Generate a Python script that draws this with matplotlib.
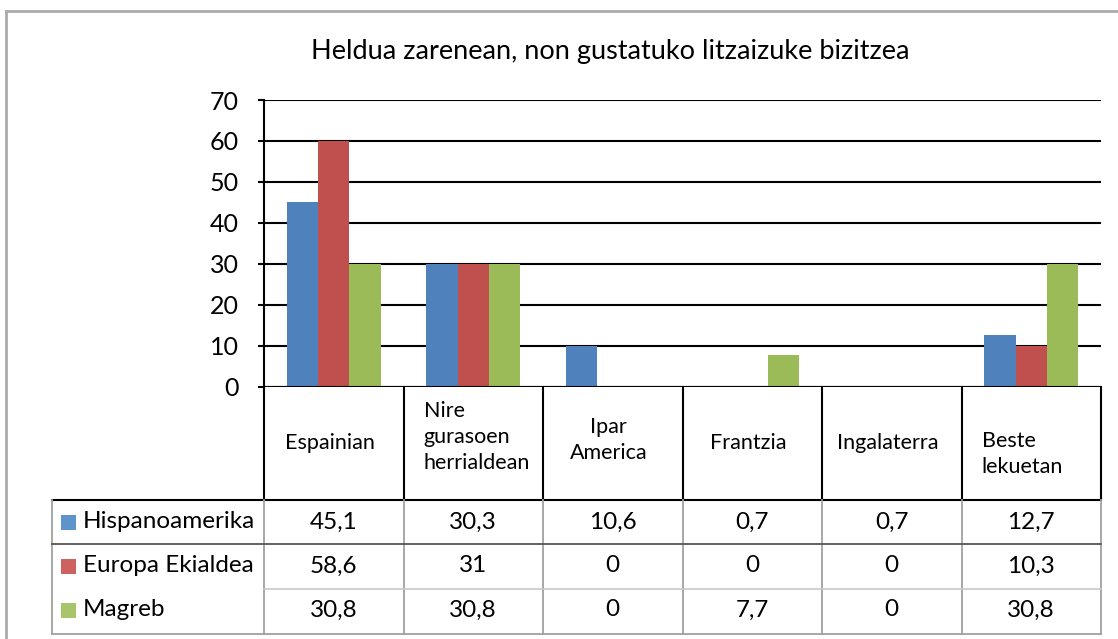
import matplotlib
matplotlib.use("Agg")
import matplotlib.pyplot as plt
from matplotlib.lines import Line2D
import numpy as np

plt.rcParams['font.family'] = ['Lato', 'DejaVu Sans']

title = "Heldua zarenean, non gustatuko litzaizuke bizitzea"
categories = ["Espainian", "Nire\ngurasoen\nherrialdean", "Ipar\nAmerica",
              "Frantzia", "Ingalaterra", "Beste\nlekuetan"]
series = ["Hispanoamerika", "Europa Ekialdea", "Magreb"]
# bar heights as drawn in the chart
hispano_bars = [45.1, 30, 10, 0, 0, 12.7]
europa_bars = [60, 30, 0, 0, 0, 10]
magreb_bars = [30, 30, 0, 7.7, 0, 30]
# values printed in the data table
hispano_table = ["45,1", "30,3", "10,6", "0,7", "0,7", "12,7"]
europa_table = ["58,6", "31", "0", "0", "0", "10,3"]
magreb_table = ["30,8", "30,8", "0", "7,7", "0", "30,8"]
yticks = [0, 10, 20, 30, 40, 50, 60, 70]

bar_colors = ["#4F81BD", "#C0504D", "#9BBB59"]
key_colors = ["#5E93CC", "#CE625E", "#A9C56C"]

W, H = 1118, 639
fig = plt.figure(figsize=(W / 100, H / 100), dpi=100)

def fx(x):
    return x / W

def fy(y):
    return 1 - y / H

# frame
fig.add_artist(Line2D([fx(6), fx(6)], [fy(11), fy(H + 5)], color="#ABABAB", lw=2))
fig.add_artist(Line2D([fx(6), fx(W + 5)], [fy(11), fy(11)], color="#ABABAB", lw=2))

left, right, top, bottom = 264, 1101, 100, 386.5
ax = fig.add_axes([fx(left), fy(bottom), (right - left) / W, (bottom - top) / H])
n = len(categories)
x = np.arange(n)
bw = 0.224
for i, (vals, c) in enumerate(zip([hispano_bars, europa_bars, magreb_bars], bar_colors)):
    ax.bar(x + (i - 1) * bw, vals, width=bw, color=c, zorder=3, linewidth=0)
ax.set_xlim(-0.5, n - 0.5)
ax.set_ylim(0, 70)
ax.set_yticks(yticks)
ax.set_yticklabels([str(t) for t in yticks], fontsize=18)
ax.set_xticks([])
for s in ["top", "right", "bottom"]:
    ax.spines[s].set_visible(False)
ax.spines["left"].set_linewidth(1.5)
ax.tick_params(axis="y", length=4, width=1.5, pad=14, colors="black")
ax.grid(axis="y", color="black", lw=1.5, zorder=1)
ax.axhline(0, color="black", lw=1.5, zorder=4)

fig.text(fx(610), fy(52), title, ha="center", va="center", fontsize=19.5)

# data table
col_edges = [left + (right - left) * k / n for k in range(n + 1)]
hdr_bot = 500
lab_left = 52
# header verticals
for xe in col_edges:
    fig.add_artist(Line2D([fx(xe), fx(xe)], [fy(bottom), fy(hdr_bot)], color="black", lw=1.5))
fig.add_artist(Line2D([fx(lab_left), fx(right)], [fy(hdr_bot), fy(hdr_bot)], color="black", lw=1.5))
# body lines
grey = "#A0A0A0"
for xe in [lab_left] + col_edges:
    fig.add_artist(Line2D([fx(xe), fx(xe)], [fy(500), fy(634)], color=grey, lw=1.3))
fig.add_artist(Line2D([fx(lab_left), fx(right)], [fy(544), fy(544)], color="#555555", lw=1.3))
fig.add_artist(Line2D([fx(left), fx(right)], [fy(589), fy(589)], color="#C8C8C8", lw=1.2))
fig.add_artist(Line2D([fx(lab_left), fx(right)], [fy(634), fy(634)], color=grey, lw=1.3))

# header labels
hdr_fs = 15.5
for k, cat in enumerate(categories):
    c0, c1 = col_edges[k], col_edges[k + 1]
    cx = (c0 + c1) / 2
    if k in (1, 5):
        fig.text(fx(c0 + 20), fy(437 if k == 1 else 454), cat, ha="left", va="center",
                 fontsize=hdr_fs, linespacing=1.4)
    else:
        fig.text(fx(cx - 4), fy(443 if k != 2 else 440), cat, ha="center", va="center",
                 fontsize=hdr_fs, linespacing=1.4, multialignment="center")

row_centers = [522, 566, 610]
for r, (name, tab, kc) in enumerate(zip(series, [hispano_table, europa_table, magreb_table], key_colors)):
    yc = row_centers[r]
    fig.add_artist(plt.Rectangle((fx(61), fy(yc + 8)), 15 / W, 15 / H, color=kc, lw=0))
    fig.text(fx(83), fy(yc), name, ha="left", va="center", fontsize=17.5)
    for k, v in enumerate(tab):
        cx = (col_edges[k] + col_edges[k + 1]) / 2
        fig.text(fx(cx), fy(yc), v, ha="center", va="center", fontsize=17.5)

fig.savefig("out.png", dpi=100)
